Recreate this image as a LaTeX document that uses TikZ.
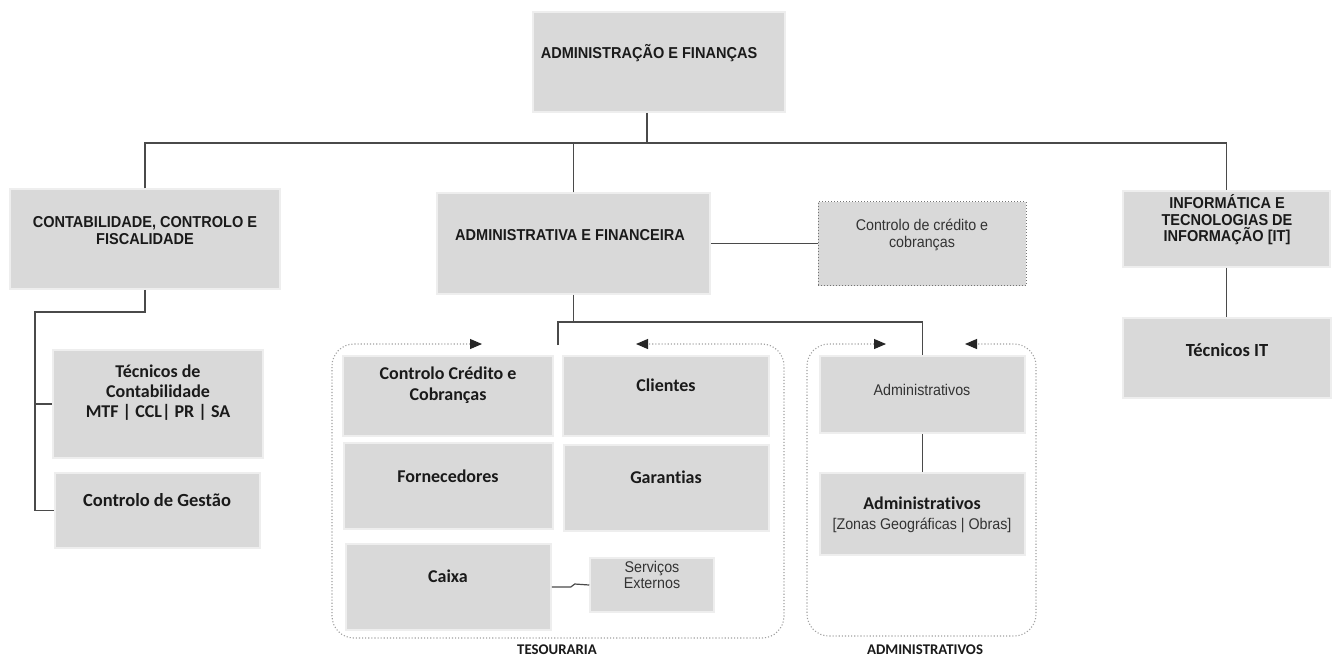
\documentclass[tikz,border=0pt]{standalone}
\usepackage{fontspec}
\setmainfont{Liberation Sans}
\newfontfamily\narrowsans[FakeStretch=0.92]{Liberation Sans}
\newfontfamily\carl[Ligatures={NoCommon}]{Carlito}
\usetikzlibrary{arrows.meta}

\definecolor{boxgray}{HTML}{D9D9D9}
\definecolor{boxedge}{HTML}{EEEEEE}
\definecolor{wirec}{HTML}{4A4A4A}
\definecolor{dotgray}{HTML}{A0A0A0}
\definecolor{inkc}{HTML}{1A1A1A}
\definecolor{softink}{HTML}{333333}

\tikzset{
  unit/.style={fill=boxgray, draw=boxedge, line width=1.5pt, inner sep=0pt, rectangle},
  dotunit/.style={fill=boxgray, draw=black!55, dotted, line width=1pt, inner sep=0pt, rectangle},
  head/.style={font=\narrowsans\bfseries\fontsize{15.8}{17}\selectfont, align=center, text=inkc, inner sep=0pt},
  cbold/.style={font=\carl\bfseries\fontsize{18}{21}\selectfont, align=center, text=inkc, inner sep=0pt},
  plain/.style={font=\narrowsans\fontsize{15.5}{17}\selectfont, align=center, text=softink, inner sep=0pt},
  tag/.style={font=\carl\bfseries\fontsize{14.8}{16}\selectfont, text=inkc, inner sep=0pt},
  wire/.style={draw=wirec, line width=1.4pt},
  grp/.style={draw=dotgray, line width=1.1pt, dotted, rounded corners=22pt,
    arrows={Triangle[length=12pt,width=10pt,color=black!85]-Triangle[length=12pt,width=10pt,color=black!85]}},
}

\begin{document}
\begin{tikzpicture}[x=1pt,y=-1pt]
\useasboundingbox[fill=white] (0,0) rectangle (1332,657);

% ---------- boxes ----------
\node[unit, minimum width=252, minimum height=100] (af)   at (659,62) {};
\node[unit, minimum width=270, minimum height=100] (ccf)  at (145,239) {};
\node[unit, minimum width=273, minimum height=101] (afin) at (573.5,243.5) {};
\node[dotunit, minimum width=208, minimum height=84] (ccc) at (922,243.5) {};
\node[unit, minimum width=207, minimum height=76] (it)    at (1226.5,229) {};
\node[unit, minimum width=208, minimum height=80] (tit)   at (1227,358) {};

\node[unit, minimum width=210, minimum height=108] (tc)   at (158,404) {};
\node[unit, minimum width=205, minimum height=75] (cg)    at (157.5,510.5) {};

\node[unit, minimum width=210, minimum height=80] (ccr)   at (448,396) {};
\node[unit, minimum width=206, minimum height=80] (cli)   at (666,396) {};
\node[unit, minimum width=209, minimum height=86] (forn)  at (448.5,486) {};
\node[unit, minimum width=205, minimum height=86] (gar)   at (666.5,488) {};
\node[unit, minimum width=205, minimum height=86] (cx)    at (448.5,587) {};
\node[unit, minimum width=124, minimum height=54] (se)    at (652,585) {};

\node[unit, minimum width=205, minimum height=77] (adm)   at (922.5,394.5) {};
\node[unit, minimum width=205, minimum height=82] (admz)  at (922.5,514) {};

% ---------- texts ----------
\node[head] (af-t)   at (649,53)  {ADMINISTRAÇÃO E FINANÇAS};
\node[head] (ccf-t)  at (145,231) {CONTABILIDADE, CONTROLO E\\FISCALIDADE};
\node[head] (afin-t) at (570,235) {ADMINISTRATIVA E FINANCEIRA};
\node[plain] (ccc-t) at (922,235) {Controlo de crédito e\\cobranças};
\node[head, font=\narrowsans\bfseries\fontsize{15.8}{16.5}\selectfont] (it-t) at (1227,220) {INFORMÁTICA E\\TECNOLOGIAS DE\\INFORMAÇÃO [IT]};
\node[cbold, font=\carl\bfseries\fontsize{18.5}{21}\selectfont] (tit-t) at (1227,350) {Técnicos IT};

\node[cbold, font=\carl\bfseries\fontsize{18}{20}\selectfont] (tc-t) at (158,393) {Técnicos de\\Contabilidade\\MTF | CCL| PR | SA};
\node[cbold, font=\carl\bfseries\fontsize{18.5}{21}\selectfont] (cg-t) at (157,500) {Controlo de Gestão};

\node[cbold] (ccr-t)  at (448,385) {Controlo Crédito e\\Cobranças};
\node[cbold] (cli-t)  at (666,385) {Clientes};
\node[cbold] (forn-t) at (448,476) {Fornecedores};
\node[cbold] (gar-t)  at (666,477) {Garantias};
\node[cbold] (cx-t)   at (448,576) {Caixa};
\node[plain, font=\narrowsans\fontsize{15.5}{16}\selectfont] (se-t) at (652,575) {Serviços\\Externos};

\node[plain] (adm-t)  at (922,390) {Administrativos};
\node[cbold] (admz-a) at (922,503) {Administrativos};
\node[plain] (admz-b) at (922,525) {[Zonas Geográficas | Obras]};

\node[tag] (tes-l) at (557,650) {TESOURARIA};
\node[tag] (adm-l) at (925,650) {ADMINISTRATIVOS};

% ---------- connectors ----------
\coordinate (bus) at (647,143);
\draw[wire] (af.south -| bus) -- (bus);
\draw[wire] (ccf.north) |- (bus) -| (it.north);
\draw[wire] (afin.north) -- (afin.north |- bus);
\draw[wire] (afin.east) -- (ccc.west);
\draw[wire] (it.south) -- (it.south |- tit.north);

\coordinate (rail) at (35,312);
\draw[wire] (ccf.south) |- (rail) -- (rail |- cg.west) -- (cg.west);
\draw[wire] (rail |- tc.west) -- (tc.west);

\coordinate (brk) at (558,322);
\coordinate (brk-foot) at (558,345);
\draw[wire] (afin.south) -- (afin.south |- brk);
\draw[wire] (brk-foot) -- (brk) -| (adm.north);
\draw[wire] (adm.south) -- (admz.north);
\draw[wire, line width=1.2pt] (cx.east) -- ++(19,0) -- ++(4,-3) -- (se.west);

% ---------- dotted groups ----------
\coordinate (tes-a) at (482,344);
\coordinate (tes-b) at (636,344);
\draw[grp] (tes-a) -- (332,344) -- (332,638) -- (784,638) -- (784,344) -- (tes-b);

\coordinate (adg-a) at (886,344);
\coordinate (adg-b) at (965,344);
\draw[grp] (adg-a) -- (807,344) -- (807,636) -- (1036,636) -- (1036,344) -- (adg-b);
\end{tikzpicture}
\end{document}
